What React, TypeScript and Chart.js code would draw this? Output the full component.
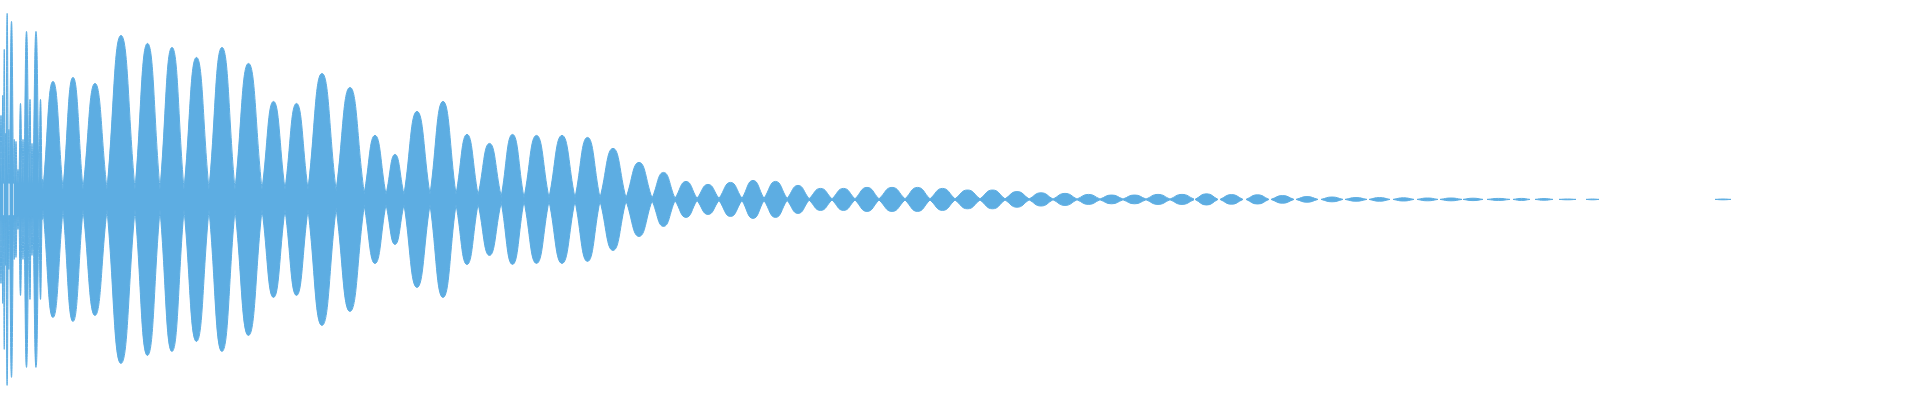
import React, { useEffect, useRef } from "react";
import { Chart, registerables } from "chart.js";

Chart.register(...registerables);

// Waveform envelope: one entry per lobe.
// x in sample frames (0 .. 1920), amplitude in % of full scale.
const segmentStart = [
  0, 2, 3.5, 5, 6, 8.3, 9.5, 13.5, 15, 17, 19, 22, 24, 29, 31, 33, 39, 42,
  43, 63, 83, 107, 135, 160, 184, 209, 235, 262, 285, 308, 336, 364, 386, 404, 430, 456, 478,
  501, 524, 549, 575, 600, 626, 652, 675, 697, 719, 742, 764, 787, 809, 832, 855, 879, 905,
  930, 955, 980, 1005, 1029, 1053, 1077, 1100, 1123, 1146, 1170, 1195, 1220, 1246, 1271,
  1296, 1321, 1345, 1369, 1393, 1417, 1440, 1463, 1487, 1513, 1535, 1559, 1586, 1715,
];
const segmentEnd = [
  2, 3.5, 5, 6, 8.3, 9.5, 13.5, 15, 17, 19, 22, 24, 29, 31, 33, 39, 42, 43,
  63, 83, 107, 135, 160, 184, 209, 235, 262, 285, 308, 336, 364, 386, 404, 430, 456, 478, 501,
  524, 549, 575, 600, 626, 652, 675, 697, 719, 742, 764, 787, 809, 832, 855, 879, 905, 930,
  955, 980, 1005, 1029, 1053, 1077, 1100, 1123, 1146, 1170, 1194, 1218, 1243, 1269, 1294,
  1318, 1343, 1367, 1390, 1414, 1438, 1462, 1483, 1510, 1530, 1553, 1576, 1599, 1731,
];
const segmentPeak = [
  42, 52, 75, 33, 93, 35, 89, 30, 29, 15, 48, 30, 84, 50, 28, 84, 50, 10,
  59, 61, 58, 82, 78, 76, 71, 76, 68, 49, 48, 63, 56, 32, 22.5, 44, 49, 32.5, 28,
  32.5, 32, 32, 31, 25.5, 18.5, 13.5, 9, 7.5, 8.5, 9.5, 9, 7, 5.5, 5.5, 6, 6, 6,
  5.5, 4.7, 4.7, 3.9, 3.3, 3, 2.5, 2.2, 2.2, 2.5, 2.5, 2.8, 2.4, 2.3, 1.9,
  1.4, 1.2, 0.9, 0.9, 0.8, 0.7, 0.7, 0.6, 0.5, 0.5, 0.4, 0.2, 0.2, 0.2,
];
const segmentFloor = [
  8, 8, 8, 8, 8, 8, 8, 8, 8, 8, 8, 8, 8, 8, 8, 8, 8, 5,
  5, 5, 5, 5, 5, 5, 5, 5, 5, 5, 5, 5, 4, 2.5, 2.5, 2.5, 2.5, 2.5, 2,
  0.8, 0.8, 0.8, 0.8, 0.8, 0.8, 0.6, 0.5, 0.5, 0.5, 0.5, 0.5, 0.4, 0.3, 0.3, 0.3, 0.3, 0.3,
  0.3, 0.3, 0.3, 0.3, 0.2, 0.2, 0.2, 0.2, 0.2, 0.2, 0.2, 0, 0, 0, 0,
  0, 0, 0, 0, 0, 0, 0, 0, 0, 0, 0, 0, 0, 0,
];

const WAVE_COLOR = "#5DADE2";

// Each lobe is its own line segment (separated by null gaps). The gap
// markers sit slightly inside the lobe so that Chart.js' spline gives the
// lobe sine-like, steep flanks instead of thin necks.
function buildEnvelope(sign: number) {
  const pts: { x: number; y: number | null }[] = [];
  for (let i = 0; i < segmentStart.length; i++) {
    const s = segmentStart[i];
    const e = segmentEnd[i];
    const inset = (e - s) * 0.18;
    pts.push({ x: s + inset, y: null });
    pts.push({ x: s, y: sign * segmentFloor[i] });
    pts.push({ x: (s + e) / 2, y: sign * segmentPeak[i] });
    pts.push({ x: e, y: sign * segmentFloor[i] });
    pts.push({ x: e - inset, y: null });
  }
  return pts;
}

export default function App() {
  const canvasRef = useRef<HTMLCanvasElement | null>(null);

  useEffect(() => {
    document.body.style.margin = "0";
    const canvas = canvasRef.current;
    if (!canvas) return;
    const common = {
      backgroundColor: WAVE_COLOR,
      borderColor: WAVE_COLOR,
      borderWidth: 1,
      pointRadius: 0,
      pointHoverRadius: 0,
      tension: 0.5,
      spanGaps: false,
    };
    const chart = new Chart(canvas, {
      type: "line",
      data: {
        datasets: [
          { ...common, label: "upper", data: buildEnvelope(1) as any, fill: "+1" },
          { ...common, label: "lower", data: buildEnvelope(-1) as any, fill: false },
        ],
      },
      options: {
        animation: false,
        responsive: false,
        maintainAspectRatio: false,
        layout: { padding: 0 },
        events: [],
        scales: {
          x: { type: "linear", min: 0, max: 1920, display: false },
          y: { type: "linear", min: -100.3, max: 99.7, display: false },
        },
        plugins: {
          legend: { display: false },
          tooltip: { enabled: false },
          title: { display: false },
        },
      },
    });
    return () => chart.destroy();
  }, []);

  return (
    <div style={{ width: 1920, height: 400, background: "#ffffff" }}>
      <canvas
        ref={canvasRef}
        width={1920}
        height={400}
        style={{ display: "block", width: 1920, height: 400 }}
      />
    </div>
  );
}
